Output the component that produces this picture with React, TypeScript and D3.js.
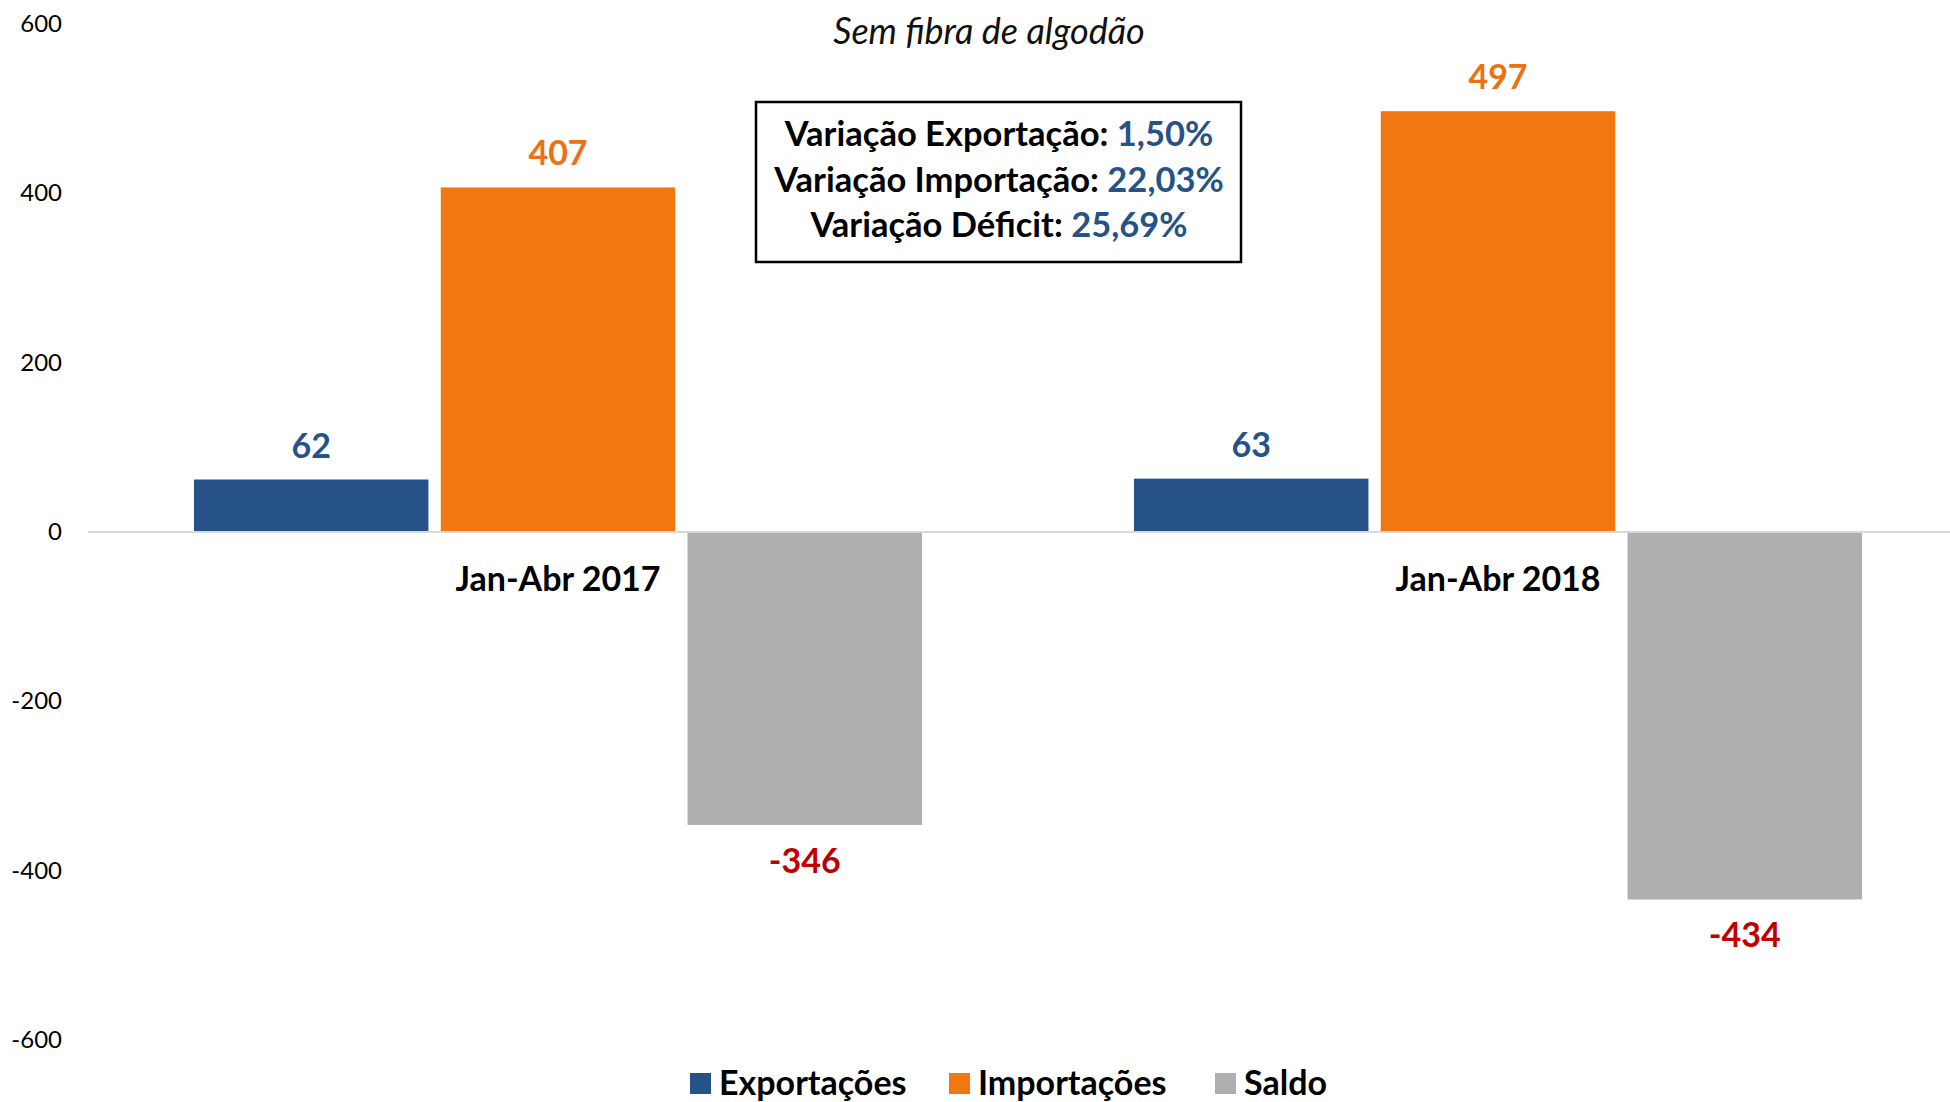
import * as d3 from "d3";

const categories = ["Jan-Abr 2017", "Jan-Abr 2018"];
const seriesNames = ["Exportações", "Importações", "Saldo"];
const exportacoes = [62, 63];
const importacoes = [407, 497];
const saldo = [-346, -434];
const yTicks = [-600, -400, -200, 0, 200, 400, 600];
const boxLines = [
  { label: "Variação Exportação: ", value: "1,50%" },
  { label: "Variação Importação: ", value: "22,03%" },
  { label: "Variação Déficit: ", value: "25,69%" },
];

const COLORS = ["#265288", "#F07711", "#AFAFAF"];
const LABEL_COLORS = ["#265288", "#EC7014", "#C00000"];
const FONT = "Lato, 'Open Sans', sans-serif";

export default function App() {
  const W = 1950;
  const H = 1102;
  const values = [exportacoes, importacoes, saldo];

  const y = d3.scaleLinear().domain([-600, 600]).range([1040, 24]);
  const x0 = d3.scaleBand().domain(categories).range([88, 1968]);
  const x1 = d3.scaleBand().domain(seriesNames).range([106, 834]).paddingInner(0.05);

  return (
    <svg width={W} height={H} style={{ position: "absolute", left: 0, top: 0, background: "#fff" }} fontFamily={FONT}>
      <text x={989} y={44} textAnchor="middle" fontStyle="italic" fontSize={36} fill="#111">
        Sem fibra de algodão
      </text>

      {yTicks.map((t) => (
        <text key={t} x={62} y={y(t) + 8} textAnchor="end" fontSize={24} fill="#000">
          {t}
        </text>
      ))}

      {categories.map((c, ci) =>
        seriesNames.map((s, si) => {
          const v = values[si][ci];
          const bx = (x0(c) ?? 0) + (x1(s) ?? 0);
          const top = Math.min(y(v), y(0));
          const h = Math.abs(y(v) - y(0));
          return (
            <g key={c + s}>
              <rect x={bx} y={top} width={x1.bandwidth()} height={h} fill={COLORS[si]} />
              <text
                x={bx + x1.bandwidth() / 2}
                y={v >= 0 ? y(v) - 22 : y(v) + 48}
                textAnchor="middle"
                fontWeight="bold"
                fontSize={34}
                fill={LABEL_COLORS[si]}
              >
                {v}
              </text>
            </g>
          );
        })
      )}

      <line x1={88} x2={W} y1={y(0)} y2={y(0)} stroke="#D9D9D9" strokeWidth={2} />

      {categories.map((c) => (
        <text key={c} x={(x0(c) ?? 0) + x0.bandwidth() / 2} y={591} textAnchor="middle" fontWeight="bold" fontSize={34} fill="#000">
          {c}
        </text>
      ))}

      <rect x={756} y={102} width={485} height={160} fill="#fff" stroke="#000" strokeWidth={2.5} />
      {boxLines.map((l, i) => (
        <text key={i} x={999} y={146 + i * 45.5} textAnchor="middle" fontWeight="bold" fontSize={34.5} fill="#000">
          {l.label}
          <tspan fill="#265288">{l.value}</tspan>
        </text>
      ))}

      {seriesNames.map((s, i) => {
        const lx = [690, 949, 1215][i];
        return (
          <g key={s}>
            <rect x={lx} y={1073} width={21} height={21} fill={COLORS[i]} />
            <text x={lx + 29} y={1095} fontWeight="bold" fontSize={34} fill="#000">
              {s}
            </text>
          </g>
        );
      })}
    </svg>
  );
}
